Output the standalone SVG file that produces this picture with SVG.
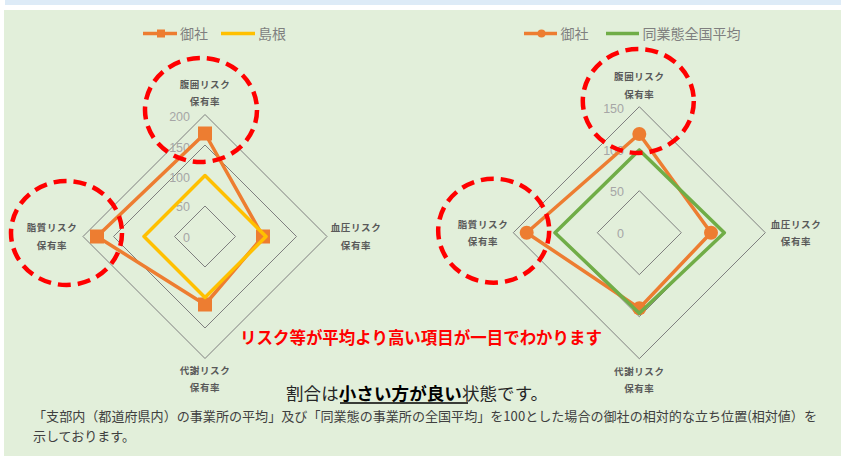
<svg xmlns="http://www.w3.org/2000/svg" width="841" height="456" viewBox="0 0 841 456">
<style>
.ring{fill:none;stroke:#7f7f7f;stroke-width:1}
.ax{font-family:"Noto Sans CJK JP","Noto Sans",sans-serif;font-size:9.5px;font-weight:700;fill:#595959;text-anchor:middle;letter-spacing:0.6px}
.tick{font-family:"Liberation Sans","Noto Sans",sans-serif;font-size:12.5px;fill:#a6a6a6;text-anchor:end}
.leg{font-family:"Noto Sans CJK JP",sans-serif;font-size:14px;fill:#7f7f7f}
.or{fill:none;stroke:#ed7d31;stroke-width:3.5;stroke-linejoin:round}
.ye{fill:none;stroke:#ffc000;stroke-width:3.5;stroke-linejoin:round}
.gr{fill:none;stroke:#70ad47;stroke-width:3.5;stroke-linejoin:round}
.hl{fill:none;stroke:#ff0000;stroke-width:4.5;stroke-dasharray:13 7}
</style>
<rect x="0" y="0" width="841" height="456" fill="#ffffff"/>
<rect x="5" y="0" width="836" height="5" fill="#ddebf7"/>
<rect x="4" y="10" width="837" height="446" fill="#e2efda"/>

<g id="chart-left">
  <g id="legend-left">
    <line x1="143" y1="33.5" x2="177" y2="33.5" stroke="#ed7d31" stroke-width="3.5"/>
    <rect x="157" y="29.5" width="8" height="8" fill="#ed7d31"/>
    <text class="leg" x="180" y="39">御社</text>
    <line x1="221" y1="33.5" x2="255" y2="33.5" stroke="#ffc000" stroke-width="3.5"/>
    <text class="leg" x="258" y="39">島根</text>
  </g>
  <g id="grid-left">
    <polygon class="ring" points="205,206 235.5,236.5 205,267 174.5,236.5"/>
    <polygon class="ring" points="205,175.5 266,236.5 205,297.5 144,236.5"/>
    <polygon class="ring" points="205,145 296.5,236.5 205,328 113.5,236.5"/>
    <polygon class="ring" points="205,114.5 327,236.5 205,358.5 83,236.5"/>
  </g>
  <g id="ticks-left">
    <text class="tick" x="190" y="121">200</text>
    <text class="tick" x="190" y="151.5">150</text>
    <text class="tick" x="190" y="181.5">100</text>
    <text class="tick" x="190" y="211">50</text>
    <text class="tick" x="190" y="241.5">0</text>
  </g>
  <g id="axis-labels-left">
    <text class="ax" x="205" y="87.5">腹囲リスク</text>
    <text class="ax" x="205" y="105">保有率</text>
    <text class="ax" x="52" y="231">脂質リスク</text>
    <text class="ax" x="52" y="248.5">保有率</text>
    <text class="ax" x="356" y="231">血圧リスク</text>
    <text class="ax" x="356" y="248.5">保有率</text>
    <text class="ax" x="205" y="373.5">代謝リスク</text>
    <text class="ax" x="205" y="391">保有率</text>
  </g>
  <g id="series-left-company">
    <polygon class="or" points="205,133.5 263,236.5 205,304.5 97,236.5"/>
    <rect x="198" y="126.5" width="14" height="14" fill="#ed7d31"/>
    <rect x="256" y="229.5" width="14" height="14" fill="#ed7d31"/>
    <rect x="198" y="297.5" width="14" height="14" fill="#ed7d31"/>
    <rect x="90" y="229.5" width="14" height="14" fill="#ed7d31"/>
  </g>
  <g id="series-left-shimane">
    <polygon class="ye" points="205,175.5 266,236.5 205,297.5 144,236.5"/>
  </g>
</g>

<g id="chart-right">
  <g id="legend-right">
    <line x1="524" y1="33.5" x2="557" y2="33.5" stroke="#ed7d31" stroke-width="3.5"/>
    <circle cx="541.5" cy="33.5" r="4" fill="#ed7d31"/>
    <text class="leg" x="560.5" y="39">御社</text>
    <line x1="606" y1="33.5" x2="639" y2="33.5" stroke="#70ad47" stroke-width="3.5"/>
    <text class="leg" x="642.5" y="39">同業態全国平均</text>
  </g>
  <g id="grid-right">
    <polygon class="ring" points="639.3,190.7 681.3,232.7 639.3,274.7 597.3,232.7"/>
    <polygon class="ring" points="639.3,148.7 723.3,232.7 639.3,316.7 555.3,232.7"/>
    <polygon class="ring" points="639.3,106.7 765.3,232.7 639.3,358.7 513.3,232.7"/>
  </g>
  <g id="ticks-right">
    <text class="tick" x="624" y="112.8">150</text>
    <text class="tick" x="624" y="154.5">100</text>
    <text class="tick" x="624" y="196.2">50</text>
    <text class="tick" x="624" y="237.8">0</text>
  </g>
  <g id="axis-labels-right">
    <text class="ax" x="639.3" y="80">腹囲リスク</text>
    <text class="ax" x="639.3" y="97.5">保有率</text>
    <text class="ax" x="483" y="227.5">脂質リスク</text>
    <text class="ax" x="483" y="245">保有率</text>
    <text class="ax" x="796" y="227.5">血圧リスク</text>
    <text class="ax" x="796" y="245">保有率</text>
    <text class="ax" x="639.3" y="374.5">代謝リスク</text>
    <text class="ax" x="639.3" y="392">保有率</text>
  </g>
  <g id="series-right-company">
    <polygon class="or" points="639.3,134 711,232.7 639.3,308.3 526.7,232.7"/>
    <circle cx="639.3" cy="134" r="7" fill="#ed7d31"/>
    <circle cx="711" cy="232.7" r="7" fill="#ed7d31"/>
    <circle cx="639.3" cy="308.3" r="7" fill="#ed7d31"/>
    <circle cx="526.7" cy="232.7" r="7" fill="#ed7d31"/>
  </g>
  <g id="series-right-national">
    <polygon class="gr" points="639.3,150 724.3,232.7 639.3,313.3 555,232.7"/>
  </g>
</g>

<g id="highlights">
  <ellipse class="hl" cx="201" cy="110" rx="56" ry="52"/>
  <ellipse class="hl" cx="66.5" cy="233" rx="55.5" ry="52"/>
  <ellipse class="hl" cx="638.3" cy="101" rx="55.5" ry="52"/>
  <ellipse class="hl" cx="493.7" cy="230.7" rx="55.5" ry="52"/>
</g>

<g id="captions">
  <text x="240" y="344" textLength="362" lengthAdjust="spacingAndGlyphs" font-family="'Noto Sans CJK JP',sans-serif" font-size="16.5" font-weight="700" fill="#ff0000">リスク等が平均より高い項目が一目でわかります</text>
  <text x="286" y="399.5" textLength="262" lengthAdjust="spacing" font-family="'Noto Sans CJK JP',sans-serif" font-size="17.5" fill="#262626">割合は<tspan font-weight="700" fill="#000000">小さい方が良い</tspan>状態です。</text>
  <line x1="340" y1="403" x2="468" y2="403" stroke="#000000" stroke-width="1.5"/>
  <text x="33" y="421" textLength="784" lengthAdjust="spacingAndGlyphs" font-family="'Noto Sans CJK JP',sans-serif" font-size="13" fill="#404040">「支部内（都道府県内）の事業所の平均」及び「同業態の事業所の全国平均」を100とした場合の御社の相対的な立ち位置(相対値）を</text>
  <text x="33" y="441" font-family="'Noto Sans CJK JP',sans-serif" font-size="13" fill="#404040">示しております。</text>
</g>
</svg>
